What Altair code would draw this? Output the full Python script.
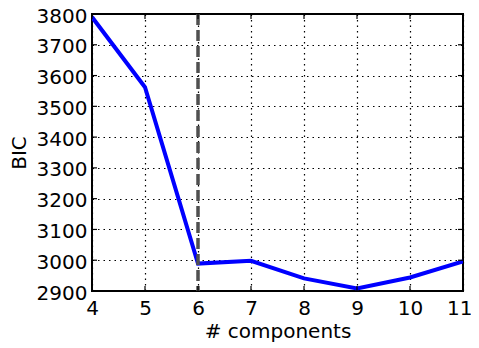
import altair as alt
import pandas as pd

components = [4, 5, 6, 7, 8, 9, 10, 11]
bic = [3790, 3562, 2989, 2998, 2941, 2908, 2944, 2996]
best_k = [6]
y_ticks = list(range(2900, 3801, 100))

W, H = 371, 277

df = pd.DataFrame({"k": components, "bic": bic})
vdf = pd.DataFrame({"k": best_k})
xt = pd.DataFrame({"k": components})
yt = pd.DataFrame({"bic": y_ticks})

font = "DejaVu Sans"
xs = alt.Scale(domain=[4, 11], nice=False, zero=False)
ys = alt.Scale(domain=[2900, 3800], nice=False, zero=False)

x_axis = alt.Axis(title="# components", values=components, format="d",
                  ticks=False, domain=False, labelFlush=False, labelOverlap=False,
                  labelAlign=alt.ExprRef(expr="datum.value == 11 ? 'right' : 'center'"),
                  labelOffset=alt.ExprRef(expr="datum.value == 11 ? 9 : 0"),
                  gridColor="black", gridDash=[1.5, 4], gridWidth=1.2,
                  labelPadding=7, titlePadding=3)
y_axis = alt.Axis(title="BIC", values=y_ticks, format="d",
                  ticks=False, domain=False, labelFlush=False, labelOverlap=False,
                  labelOffset=2,
                  gridColor="black", gridDash=[1.5, 4], gridWidth=1.2,
                  labelPadding=5, titlePadding=7)

x = alt.X("k:Q", scale=xs, axis=x_axis)
y = alt.Y("bic:Q", scale=ys, axis=y_axis)

line = alt.Chart(df).mark_line(color="#0000ff", strokeWidth=4, clip=True).encode(x=x, y=y)

vline = alt.Chart(vdf).mark_rule(color="#505050", strokeWidth=3.5, strokeDash=[11, 5]).encode(x=x)

tick_style = dict(color="black", strokeWidth=1.2)
ytick_l = alt.Chart(yt).mark_rule(**tick_style).encode(
    y=y, x=alt.value(0), x2=alt.value(5))
ytick_r = alt.Chart(yt).mark_rule(**tick_style).encode(
    y=y, x=alt.value(W - 5), x2=alt.value(W))
xtick_b = alt.Chart(xt).mark_rule(**tick_style).encode(
    x=x, y=alt.value(H - 5), y2=alt.value(H))
xtick_t = alt.Chart(xt).mark_rule(**tick_style).encode(
    x=x, y=alt.value(0), y2=alt.value(5))

chart = alt.layer(line, vline, ytick_l, ytick_r, xtick_b, xtick_t).properties(
    width=W, height=H,
    autosize=alt.AutoSizeParams(type="none"),
    padding={"left": 84, "top": 6, "right": 8, "bottom": 51},
).configure_view(
    stroke="black", strokeWidth=2
).configure_axis(
    labelFont=font, titleFont=font, labelFontSize=20, titleFontSize=20,
    labelColor="black", titleColor="black", titleFontWeight="normal"
)

chart.save("out.html", embed_options={"renderer": "svg", "actions": False})
